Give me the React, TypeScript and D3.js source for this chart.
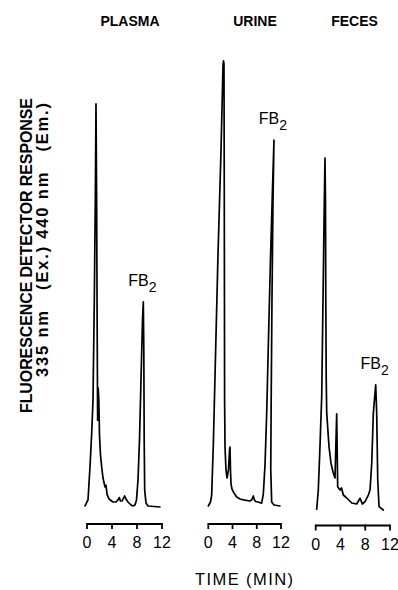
import React from "react";
import * as d3 from "d3";

// ---------- data ----------
const categories = ["PLASMA", "URINE", "FECES"];
const tickValues = [0, 4, 8, 12];
const xAxisTitle = "TIME (MIN)";
const yAxisTitle1 = "FLUORESCENCE DETECTOR RESPONSE";
const yAxisTitle2 = "335 nm\u00a0\u00a0\u00a0(Ex.)\u00a0440 nm\u00a0\u00a0\u00a0(Em.)";
const peakName = "FB";
const peakSub = "2";

// time (min) and detector response (relative units) per trace
const plasmaTime = [-0.32, 0.16, 0.48, 0.75, 0.96, 1.17, 1.33, 1.44, 1.54, 1.63, 1.7, 1.79, 1.89, 2.0, 2.16, 2.35, 2.56, 2.88, 3.04, 3.2, 3.52, 4.16, 4.64, 4.96, 5.17, 5.36, 5.6, 5.76, 6.03, 6.24, 6.56, 7.04, 7.36, 7.68, 7.92, 8.16, 8.4, 8.64, 8.88, 9.01, 9.09, 9.15, 9.23, 9.44, 9.76, 11.68];
const plasmaResp = [0.45, 1.8, 9.2, 16.7, 24.1, 46.4, 68.7, 90.2, 68.7, 39.7, 19.6, 26.8, 24.1, 16.3, 11.8, 9.15, 6.7, 4.7, 5.1, 3.1, 2.0, 1.34, 1.34, 1.8, 2.34, 1.56, 1.56, 2.0, 2.68, 2.0, 1.34, 0.67, 0.45, 0.67, 1.8, 6.25, 15.2, 28.6, 42.0, 46.0, 35.3, 15.2, 4.0, 1.1, 0.45, 0.22];

const urineTime = [0, 0.36, 0.56, 0.69, 0.83, 1.6, 2.1, 2.43, 2.51, 2.59, 2.64, 2.69, 2.76, 2.92, 3.09, 3.33, 3.5, 3.58, 3.66, 3.75, 3.91, 4.24, 4.69, 5.23, 5.78, 6.88, 7.21, 7.43, 7.62, 7.79, 8.2, 8.81, 9.08, 9.36, 9.64, 9.93, 10.26, 10.59, 10.84, 10.68, 10.51, 10.38, 10.31, 10.46, 10.84, 11.83];
const urineResp = [0.45, 1.34, 2.9, 8.5, 14.1, 56.5, 79.9, 98.9, 99.8, 99.1, 68.7, 24.1, 13.6, 8.5, 6.7, 8.5, 12.9, 13.6, 8.5, 5.4, 4.2, 3.35, 2.46, 2.0, 1.8, 1.56, 1.9, 2.68, 1.8, 1.45, 1.34, 1.1, 3.1, 9.6, 21.2, 37.5, 55.4, 71.0, 82.1, 68.7, 46.4, 24.1, 8.5, 1.34, 0.67, 0.45];

const fecesTime = [0.16, 0.42, 0.69, 0.97, 1.18, 1.37, 1.5, 1.58, 1.63, 1.7, 1.78, 2.15, 2.47, 2.84, 3.12, 3.28, 3.39, 3.47, 3.55, 3.93, 4.17, 4.46, 5.01, 5.82, 6.62, 7.16, 7.53, 7.96, 8.5, 8.77, 9.05, 9.31, 9.69, 9.85, 10.02, 10.23, 10.92];
const fecesResp = [-0.29, 4.0, 13.7, 24.9, 46.4, 66.5, 78.1, 68.7, 46.4, 28.6, 21.2, 13.7, 10.0, 7.8, 6.7, 15.2, 21.0, 12.9, 4.75, 4.0, 4.46, 2.9, 2.23, 1.12, 0.89, 2.17, 0.89, 1.4, 2.9, 4.0, 10.0, 21.2, 27.5, 21.2, 6.25, 0.29, -0.45];

const traces = [
  { time: plasmaTime, resp: plasmaResp },
  { time: urineTime, resp: urineResp },
  { time: fecesTime, resp: fecesResp },
];

// ---------- layout ----------
const W = 398;
const H = 590;
const panelLayout = [
  { x0: 87, x1: 162, axisY: 524, titleX: 130 },
  { x0: 208.3, x1: 281, axisY: 524, titleX: 255 },
  { x0: 315.7, x1: 390, axisY: 525.5, titleX: 354.5 },
];
const yScale = d3.scaleLinear().domain([0, 100]).range([508, 60]);

export default function App() {
  return (
    <svg
      width={W}
      height={H}
      style={{ position: "absolute", left: 0, top: 0, background: "#fff" }}
      fontFamily="'Liberation Sans', Arial, sans-serif"
    >
      <rect x={0} y={0} width={W} height={H} fill="#fff" />
      {categories.map((cat, i) => {
        const L = panelLayout[i];
        const tr = traces[i];
        const x = d3.scaleLinear().domain([0, 12]).range([L.x0, L.x1]);
        const pts = tr.time.map((t, k) => [t, tr.resp[k]] as [number, number]);
        const line = d3
          .line<[number, number]>()
          .x((d) => x(d[0]))
          .y((d) => yScale(d[1]));
        // FB2 peak: maximum after 7.5 min
        let best = pts[0];
        pts.forEach((p) => {
          if (p[0] > 7.5 && (best[0] <= 7.5 || p[1] > best[1])) best = p;
        });
        const lx = x(best[0]) - 1;
        const ly = yScale(best[1]) - 16;
        return (
          <g key={cat}>
            <text
              x={L.titleX}
              y={25.5}
              textAnchor="middle"
              fontSize={14}
              fontWeight="bold"
              fill="#000"
            >
              {cat}
            </text>
            <path
              d={line(pts) || ""}
              fill="none"
              stroke="#000"
              strokeWidth={1.7}
              strokeLinejoin="round"
              strokeLinecap="round"
            />
            <text x={lx} y={ly} textAnchor="middle" fontSize={16} fill="#000">
              {peakName}
              <tspan fontSize={14} dy={6}>
                {peakSub}
              </tspan>
            </text>
            <line
              x1={x(0)}
              x2={x(12)}
              y1={L.axisY}
              y2={L.axisY}
              stroke="#000"
              strokeWidth={2}
            />
            {tickValues.map((tv) => (
              <g key={tv}>
                <line
                  x1={x(tv)}
                  x2={x(tv)}
                  y1={L.axisY - 1}
                  y2={L.axisY + 5}
                  stroke="#000"
                  strokeWidth={1.8}
                />
                <text
                  x={x(tv)}
                  y={L.axisY + 24}
                  textAnchor="middle"
                  fontSize={16}
                  fill="#000"
                >
                  {tv}
                </text>
              </g>
            ))}
          </g>
        );
      })}
      <text
        x={244}
        y={585}
        textAnchor="middle"
        fontSize={16.5}
        textLength={98}
        lengthAdjust="spacing"
        fill="#000"
      >
        {xAxisTitle}
      </text>
      <text
        transform="translate(32,255.5) rotate(-90)"
        textAnchor="middle"
        fontSize={16}
        fontWeight="bold"
        textLength={315}
        lengthAdjust="spacing"
        fill="#000"
      >
        {yAxisTitle1}
      </text>
      <text
        transform="translate(48,240) rotate(-90)"
        textAnchor="middle"
        fontSize={16.5}
        fontWeight="bold"
        textLength={274}
        lengthAdjust="spacing"
        fill="#000"
      >
        {yAxisTitle2}
      </text>
    </svg>
  );
}
